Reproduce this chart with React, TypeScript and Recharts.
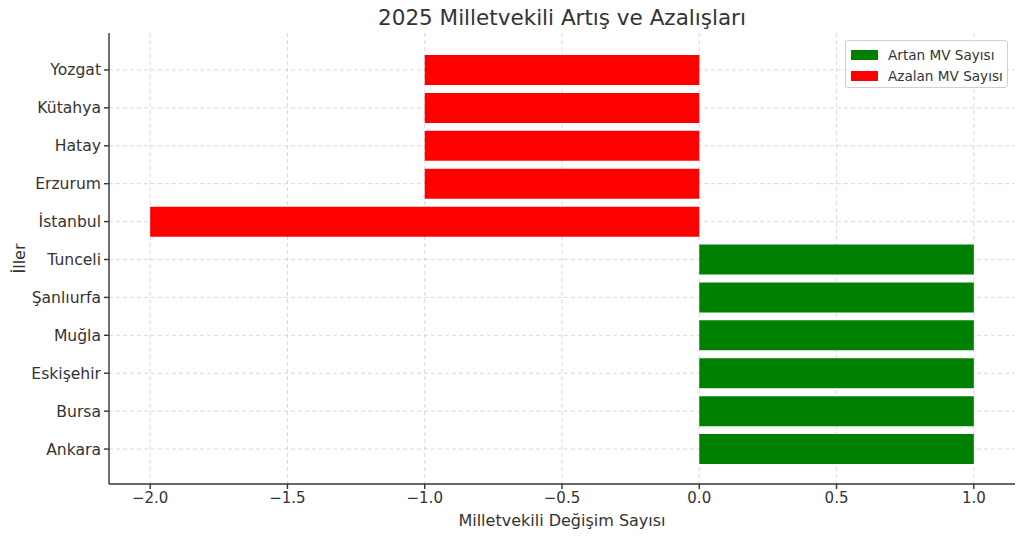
import { BarChart, Bar, XAxis, YAxis, CartesianGrid } from "recharts";

// top to bottom, as drawn
const provinces = [
  "Yozgat",
  "Kütahya",
  "Hatay",
  "Erzurum",
  "İstanbul",
  "Tunceli",
  "Şanlıurfa",
  "Muğla",
  "Eskişehir",
  "Bursa",
  "Ankara",
];
const artan = [0, 0, 0, 0, 0, 1, 1, 1, 1, 1, 1];
const azalan = [-1, -1, -1, -1, -2, 0, 0, 0, 0, 0, 0];
const xTicks = [-2, -1.5, -1, -0.5, 0, 0.5, 1];

const GREEN = "#008000";
const RED = "#ff0000";
const INK = "#333333";
const FONT = "DejaVu Sans, sans-serif";

const data = provinces.map((name, i) => ({
  name,
  artan: artan[i] || null,
  azalan: azalan[i] || null,
}));

const legendItems = [
  { label: "Artan MV Sayısı", color: GREEN },
  { label: "Azalan MV Sayısı", color: RED },
];

const fmt = (v: number) => v.toFixed(1).replace("-", "\u2212");

function LegendBox() {
  return (
    <div
      style={{
        position: "absolute",
        left: 845,
        top: 40,
        width: 163,
        height: 48,
        border: "1px solid #d0d0d0",
        borderRadius: 3,
        background: "rgba(255,255,255,0.8)",
        padding: "3px 0 0 5px",
        fontFamily: FONT,
        fontSize: 13.6,
        color: INK,
        boxSizing: "border-box",
        whiteSpace: "nowrap",
      }}
    >
      {legendItems.map((it) => (
        <div key={it.label} style={{ display: "flex", alignItems: "center", height: 21 }}>
          <span
            style={{
              display: "inline-block",
              width: 27,
              height: 10,
              background: it.color,
              marginRight: 10,
            }}
          />
          {it.label}
        </div>
      ))}
    </div>
  );
}

export default function App() {
  return (
    <div style={{ position: "absolute", left: 0, top: 0, width: 1024, height: 536, background: "#fff" }}>
      <div
        style={{
          position: "absolute",
          top: 5,
          left: 109,
          width: 906,
          textAlign: "center",
          fontFamily: FONT,
          fontSize: 21.5,
          color: INK,
        }}
      >
        2025 Milletvekili Artış ve Azalışları
      </div>
      <BarChart
        width={1024}
        height={536}
        data={data}
        layout="vertical"
        stackOffset="sign"
        margin={{ top: 33, right: 9, bottom: 0, left: 0 }}
      >
        <CartesianGrid stroke="#d0d0d0" strokeDasharray="4 3" strokeWidth={0.8} syncWithTicks />
        <XAxis
          type="number"
          domain={[-2.15, 1.15]}
          ticks={xTicks}
          allowDataOverflow
          tickFormatter={fmt}
          tick={{ fontSize: 15, fill: INK, fontFamily: FONT }}
          tickSize={5}
          tickMargin={3}
          stroke={INK}
          strokeWidth={1.4}
          height={52}
          label={{
            value: "Milletvekili Değişim Sayısı",
            position: "insideBottom",
            offset: 10,
            style: { fontSize: 16, fill: INK, fontFamily: FONT },
          }}
        />
        <YAxis
          type="category"
          dataKey="name"
          width={109}
          padding={{ top: 18, bottom: 16 }}
          tick={{ fontSize: 15.6, fill: INK, fontFamily: FONT }}
          tickSize={5}
          tickMargin={3}
          stroke={INK}
          strokeWidth={1.4}
          label={{
            value: "İller",
            angle: -90,
            position: "insideLeft",
            offset: 19,
            style: { fontSize: 16, fill: INK, fontFamily: FONT, textAnchor: "middle" },
          }}
        />
        <Bar dataKey="artan" name="Artan MV Sayısı" stackId="a" fill={GREEN} barSize={30} isAnimationActive={false} />
        <Bar dataKey="azalan" name="Azalan MV Sayısı" stackId="a" fill={RED} barSize={30} isAnimationActive={false} />
      </BarChart>
      <LegendBox />
    </div>
  );
}
